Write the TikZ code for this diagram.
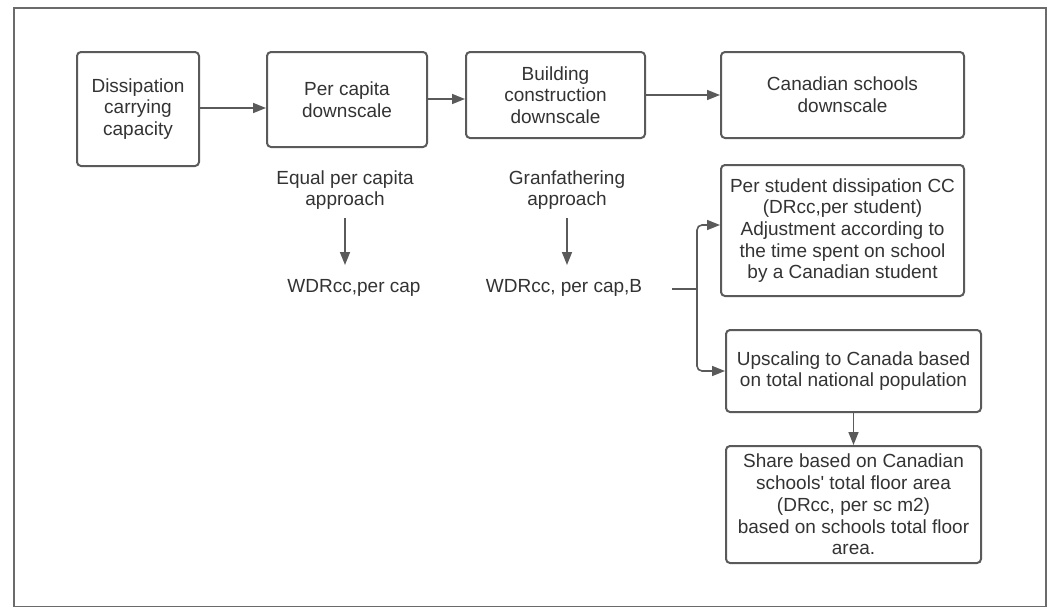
\documentclass[tikz,border=0pt]{standalone}
\usepackage{fontspec}
\setmainfont{Liberation Sans}
\usetikzlibrary{arrows.meta}
\definecolor{linec}{HTML}{5A5A5A}
\definecolor{textc}{HTML}{333333}
\begin{document}
\begin{tikzpicture}[x=1pt,y=-1pt,
  every node/.style={text=textc,font=\fontsize{19}{21.7}\selectfont,align=center,inner sep=0pt},
  flowbox/.style={draw=linec,line width=2pt,rounded corners=4pt,minimum width=#1},
  arr/.style={draw=linec,line width=1.6pt,-{Triangle[length=13pt,width=10pt]}},
  frame/.style={draw=linec!90,line width=1.5pt}]
\useasboundingbox (0,0) rectangle (1056,608);
\draw[frame] (14,8) rectangle (1046,606.5);
\node[flowbox=122pt,minimum height=114pt] (b1) at (138,109) {Dissipation\\carrying\\capacity};
\node[flowbox=160pt,minimum height=95pt] (b2) at (347,99.5) {Per capita\\downscale};
\node[flowbox=179pt,minimum height=86pt] (b3) at (555.5,95) {Building\\construction\\downscale};
\node[flowbox=243pt,minimum height=86pt] (b4) at (842.5,95) {Canadian schools\\downscale};
\node[flowbox=243pt,minimum height=131pt] (b5) at (842.5,230.5) {Per student dissipation CC\\(DRcc,per student)\\Adjustment according to\\the time spent on school\\by a Canadian student};
\node[flowbox=255pt,minimum height=82pt] (b6) at (853.5,371) {Upscaling to Canada based\\on total national population};
\node[flowbox=255pt,minimum height=117pt] (b7) at (853.5,504.5) {Share based on Canadian\\schools\textquotesingle{} total floor area\\(DRcc, per sc m2)\\based on schools total floor\\area.};
\node (t1) at (345,190) {Equal per capita\\approach};
\node (t2) at (354,288) {WDRcc,per cap};
\node (t3) at (567,190) {Granfathering\\approach};
\node (t4) at (564,288) {WDRcc, per cap,B};
\coordinate (j0) at (672,289);
\coordinate (j) at (697,289);
\draw[arr] (b1.east |- 0,108) -- (b2.west |- 0,108);
\draw[arr] (b2.east |- 0,99) -- (b3.west |- 0,99);
\draw[arr] (b3.east) -- (b4.west);
\draw[arr] (345,218) coordinate (a1) -- (345,265) coordinate (a2);
\draw[arr] (567,218) coordinate (a3) -- (567,265) coordinate (a4);
\draw[draw=linec,line width=1.6pt] (j0) -- (j);
\draw[arr,rounded corners=5pt] (j) |- (b5.west |- 0,225);
\draw[arr,rounded corners=5pt] (j) |- (b6.west);
\draw[arr] (b6.south) -- (b7.north);
\end{tikzpicture}
\end{document}
